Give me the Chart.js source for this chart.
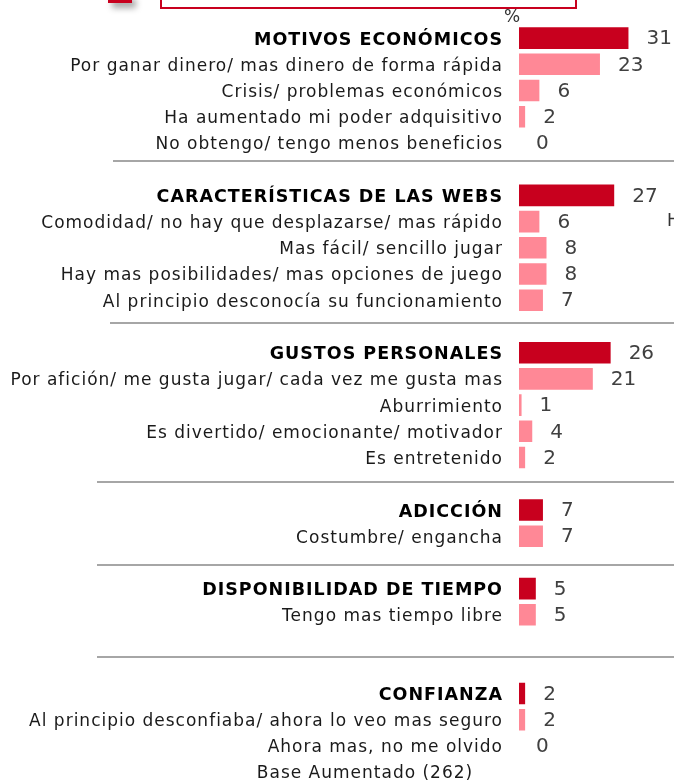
<!DOCTYPE html>
<html>
<head>
<meta charset="utf-8">
<script src="https://cdn.jsdelivr.net/npm/chart.js@4/dist/chart.umd.min.js"></script>
<style>
  html, body { margin: 0; padding: 0; background: #fff; overflow: hidden; }
  #wrap { position: relative; width: 674px; height: 781px; }
  #chart { position: absolute; left: 0; top: 0; }
  .deco-square { position: absolute; left: 108px; top: -6px; width: 24px; height: 9px; background: #c8001e; box-shadow: 4px 5px 6px rgba(0,0,0,0.35); }
  .deco-box { position: absolute; left: 160px; top: -4px; width: 413px; height: 9px; border: 2px solid #c8001e; background: #fff; }
  .pct { position: absolute; left: 504px; top: 6px; font: 17px "DejaVu Sans", sans-serif; color: #333; }
  .cut { position: absolute; left: 667px; top: 210px; font: 17px "DejaVu Sans", sans-serif; color: #333; }
  .base { position: absolute; left: 0; width: 730px; top: 762px; text-align: center; font: 17px "DejaVu Sans", sans-serif; letter-spacing: 1px; color: #1a1a1a; }
</style>
</head>
<body>
<div id="wrap">
  <canvas id="chart" width="674" height="781"></canvas>
  <div class="deco-square"></div>
  <div class="deco-box"></div>
  <div class="pct">%</div>
  <div class="cut">H</div>
  <div class="base">Base Aumentado (262)</div>
</div>
<script>
// rows, top to bottom ('' = empty spacer row)
const categories = [
    'MOTIVOS ECONÓMICOS',
    'Por ganar dinero/ mas dinero de forma rápida',
    'Crisis/ problemas económicos',
    'Ha aumentado mi poder adquisitivo',
    'No obtengo/ tengo menos beneficios',
    '',
    'CARACTERÍSTICAS DE LAS WEBS',
    'Comodidad/ no hay que desplazarse/ mas rápido',
    'Mas fácil/ sencillo jugar',
    'Hay mas posibilidades/ mas opciones de juego',
    'Al principio desconocía su funcionamiento',
    '',
    'GUSTOS PERSONALES',
    'Por afición/ me gusta jugar/ cada vez me gusta mas',
    'Aburrimiento',
    'Es divertido/ emocionante/ motivador',
    'Es entretenido',
    '',
    'ADICCIÓN',
    'Costumbre/ engancha',
    '',
    'DISPONIBILIDAD DE TIEMPO',
    'Tengo mas tiempo libre',
    '',
    '',
    'CONFIANZA',
    'Al principio desconfiaba/ ahora lo veo mas seguro',
    'Ahora mas, no me olvido'
];

const values = [
    31, 23, 6, 2, 0, null,
    27, 6, 8, 8, 7, null,
    26, 21, 1, 4, 2, null,
    7, 7, null,
    5, 5, null, null,
    2, 2, 0
];

// indexes of the group (total) rows
const headerRows = [0, 6, 12, 18, 21, 25];

// separator lines: row position and left start
const separatorRows = [4.69, 10.88, 16.95, 20.11, 23.59];
const separatorStarts = [113, 110, 97, 97, 97];

const RED = '#c8001e';
const PINK = '#ff8896';
const FONT = '"DejaVu Sans", sans-serif';

// the slide text is set wide and sits a bit low, so space the tick
// letters a little and nudge the labels down (labels draw before bars)
const labelStyle = {
    id: 'labelStyle',
    beforeDraw(chart) {
        chart.ctx.letterSpacing = '1px';
        chart.ctx.translate(0, 2);
    },
    beforeDatasetsDraw(chart) {
        chart.ctx.translate(0, -2);
        chart.ctx.letterSpacing = '0px';
    }
};

const valueLabels = {
    id: 'valueLabels',
    afterDatasetsDraw(chart) {
        const ctx = chart.ctx;
        const meta = chart.getDatasetMeta(0);
        ctx.save();
        ctx.font = '20px ' + FONT;
        ctx.fillStyle = '#404040';
        ctx.textAlign = 'left';
        ctx.textBaseline = 'middle';
        meta.data.forEach((bar, i) => {
            if (values[i] === null) return;
            ctx.fillText(String(values[i]), bar.x + 17, bar.y + 1);
        });
        ctx.restore();
    }
};

const separators = {
    id: 'separators',
    beforeDatasetsDraw(chart) {
        const ctx = chart.ctx;
        const y = chart.scales.y;
        ctx.save();
        ctx.strokeStyle = '#a6a6a6';
        ctx.lineWidth = 2;
        separatorRows.forEach((r, i) => {
            const py = Math.round(y.getPixelForValue(r));
            ctx.beginPath();
            ctx.moveTo(separatorStarts[i], py);
            ctx.lineTo(chart.width, py);
            ctx.stroke();
        });
        ctx.restore();
    }
};

new Chart(document.getElementById('chart').getContext('2d'), {
    type: 'bar',
    data: {
        labels: categories,
        datasets: [{
            data: values,
            backgroundColor: categories.map((c, i) => headerRows.includes(i) ? RED : PINK),
            borderColor: '#ffffff',
            borderWidth: 1,
            barPercentage: 0.9,
            categoryPercentage: 1
        }]
    },
    options: {
        indexAxis: 'y',
        responsive: false,
        animation: false,
        layout: { padding: { top: 25, bottom: 22, left: 0, right: 0 } },
        plugins: { legend: { display: false }, tooltip: { enabled: false } },
        scales: {
            x: { display: false, min: 0, max: 43.5 },
            y: {
                grid: { display: false },
                border: { display: false },
                afterFit: (scale) => { scale.width = 519; },
                ticks: {
                    autoSkip: false,
                    padding: 8,
                    color: (ctx) => headerRows.includes(ctx.index) ? '#000' : '#1a1a1a',
                    font: (ctx) => headerRows.includes(ctx.index)
                        ? { family: FONT, size: 17.5, weight: 'bold' }
                        : { family: FONT, size: 17 }
                }
            }
        }
    },
    plugins: [labelStyle, separators, valueLabels]
});
</script>
</body>
</html>
